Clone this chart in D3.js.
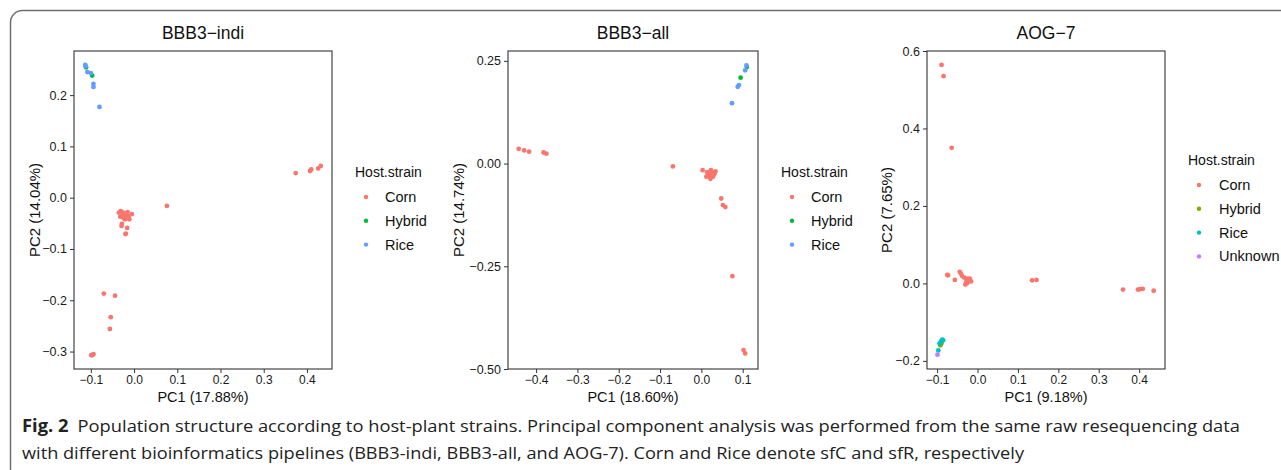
<!DOCTYPE html>
<html>
<head>
<meta charset="utf-8">
<script src="https://cdn.jsdelivr.net/npm/d3@7"></script>
<style>
  body { margin: 0; background: #fff; }
  svg { display: block; }
  .plot text { font-family: "Liberation Sans", Arial, sans-serif; }
  .caption text { font-family: "Open Sans", "Noto Sans", sans-serif; }
</style>
</head>
<body>
<svg id="chart" width="1281" height="470"></svg>
<script>
// ---- data ----
const indiCorn = [
  [0.374, 0.048], [0.407, 0.052], [0.410, 0.055], [0.426, 0.057], [0.432, 0.062],
  [0.076, -0.016],
  [-0.035, -0.029], [-0.031, -0.026], [-0.025, -0.029], [-0.015, -0.028], [-0.005, -0.032],
  [-0.011, -0.042], [-0.021, -0.042], [-0.032, -0.037], [-0.028, -0.051], [-0.029, -0.055],
  [-0.016, -0.059], [-0.019, -0.070], [-0.020, -0.071], [-0.025, -0.035], [-0.018, -0.033],
  [-0.022, -0.038], [-0.027, -0.032], [-0.013, -0.036], [-0.024, -0.040],
  [-0.070, -0.187], [-0.044, -0.191], [-0.054, -0.233], [-0.056, -0.256],
  [-0.094, -0.305], [-0.097, -0.307], [-0.099, -0.307]
]
const indiHybrid = [[-0.111, 0.254], [-0.097, 0.238]]
const indiRice = [
  [-0.113, 0.259], [-0.112, 0.256], [-0.108, 0.245], [-0.100, 0.243],
  [-0.094, 0.222], [-0.094, 0.216], [-0.080, 0.177]
]

const allCorn = [
  [-0.442, 0.036], [-0.429, 0.032], [-0.417, 0.029], [-0.382, 0.027], [-0.375, 0.024],
  [-0.069, -0.007],
  [0.003, -0.016], [0.014, -0.021], [0.023, -0.016], [0.034, -0.019], [0.018, -0.031],
  [0.022, -0.037], [0.030, -0.027], [0.026, -0.022], [0.012, -0.032], [0.020, -0.025],
  [0.028, -0.032], [0.016, -0.026], [0.032, -0.024], [0.024, -0.029],
  [0.048, -0.085], [0.052, -0.101], [0.058, -0.106], [0.075, -0.274],
  [0.102, -0.454], [0.106, -0.462]
]
const allHybrid = [[0.095, 0.209], [0.110, 0.235]]
const allRice = [
  [0.074, 0.147], [0.088, 0.187], [0.091, 0.191], [0.106, 0.227], [0.109, 0.239]
]

const aogCorn = [
  [-0.089, 0.564], [-0.084, 0.535], [-0.064, 0.350],
  [-0.075, 0.022], [-0.073, 0.021], [-0.056, 0.009],
  [-0.044, 0.030], [-0.041, 0.025], [-0.038, 0.019], [-0.026, 0.012], [-0.021, 0.010],
  [-0.016, 0.005], [-0.030, -0.003], [-0.028, 0.003], [-0.023, 0.006], [-0.033, 0.015],
  [-0.025, 0.001], [-0.019, 0.012],
  [0.135, 0.008], [0.146, 0.009],
  [0.360, -0.016], [0.397, -0.016], [0.402, -0.015], [0.409, -0.014], [0.436, -0.019]
]
const aogHybrid = [[-0.092, -0.160], [-0.089, -0.154], [-0.091, -0.157]]
const aogRice = [[-0.085, -0.147], [-0.090, -0.150], [-0.094, -0.155], [-0.097, -0.173], [-0.087, -0.145]]
const aogUnknown = [[-0.099, -0.184]]

const strains3 = ['Corn', 'Hybrid', 'Rice']
const strains4 = ['Corn', 'Hybrid', 'Rice', 'Unknown']
const colors3 = ['#F8766D', '#00BA38', '#619CFF']
const colors4 = ['#F8766D', '#7CAE00', '#00BFC4', '#C77CFF']

const titles = ['BBB3\u2212indi', 'BBB3\u2212all', 'AOG\u22127']
const xLabels = ['PC1 (17.88%)', 'PC1 (18.60%)', 'PC1 (9.18%)']
const yLabels = ['PC2 (14.04%)', 'PC2 (14.74%)', 'PC2 (7.65%)']

const xTicks = [
  [-0.1, 0.0, 0.1, 0.2, 0.3, 0.4],
  [-0.4, -0.3, -0.2, -0.1, 0.0, 0.1],
  [-0.1, 0.0, 0.1, 0.2, 0.3, 0.4]
]
const yTicks = [
  [-0.3, -0.2, -0.1, 0.0, 0.1, 0.2],
  [-0.50, -0.25, 0.00, 0.25],
  [-0.2, 0.0, 0.2, 0.4, 0.6]
]

const caption1 = 'Population structure according to host-plant strains. Principal component analysis was performed from the same raw resequencing data'
const caption2 = 'with different bioinformatics pipelines (BBB3-indi, BBB3-all, and AOG-7). Corn and Rice denote sfC and sfR, respectively'

// ---- layout ----
const panels = [
  {
    left: 74, right: 332, top: 51, bottom: 369,
    xDom: [-0.139, 0.458], yDom: [-0.334, 0.286], fmtY: '.1f', fmtX: '.1f',
    groups: [indiCorn, indiHybrid, indiRice], strains: strains3, colors: colors3,
    legend: {x: 355, y: 172, dx: 11, tx: 30}, ylabX: 35
  },
  {
    left: 508, right: 758, top: 51, bottom: 369,
    xDom: [-0.468, 0.137], yDom: [-0.5, 0.274], fmtY: '.2f', fmtX: '.1f',
    groups: [allCorn, allHybrid, allRice], strains: strains3, colors: colors3,
    legend: {x: 781, y: 172, dx: 11, tx: 30}, ylabX: 459
  },
  {
    left: 927, right: 1165, top: 51, bottom: 369,
    xDom: [-0.125, 0.464], yDom: [-0.221, 0.6], fmtY: '.1f', fmtX: '.1f',
    groups: [aogCorn, aogHybrid, aogRice, aogUnknown], strains: strains4, colors: colors4,
    legend: {x: 1188, y: 160, dx: 11, tx: 31}, ylabX: 887
  }
]

const svg = d3.select('#chart')

// outer frame, runs off the right and bottom
svg.append('rect')
  .attr('x', 10.5).attr('y', 10.5)
  .attr('width', 1320).attr('height', 520)
  .attr('rx', 12)
  .attr('fill', 'none')
  .attr('stroke', '#6f6f6f')
  .attr('stroke-width', 1.5)

const minus = s => s.replace('-', '\u2212')

panels.forEach((p, i) => {
  const x = d3.scaleLinear().domain(p.xDom).range([p.left, p.right])
  const y = d3.scaleLinear().domain(p.yDom).range([p.bottom, p.top])
  const g = svg.append('g').attr('class', 'plot')

  const xAxis = d3.axisBottom(x).tickValues(xTicks[i]).tickSize(4).tickPadding(2)
    .tickFormat(d => minus(d3.format(p.fmtX)(d)))
  const yAxis = d3.axisLeft(y).tickValues(yTicks[i]).tickSize(4).tickPadding(3)
    .tickFormat(d => minus(d3.format(p.fmtY)(d)))

  const gx = g.append('g').attr('transform', `translate(0,${p.bottom})`).call(xAxis)
  const gy = g.append('g').attr('transform', `translate(${p.left},0)`).call(yAxis)
  ;[gx, gy].forEach(a => {
    a.select('.domain').remove()
    a.selectAll('.tick line').attr('stroke', '#333').attr('stroke-width', 1)
    a.selectAll('.tick text')
      .attr('fill', '#1a1a1a')
      .style('font-size', '12.5px')
  })
  gx.selectAll('.tick text').style('font-size', '12px')

  // panel border
  g.append('rect')
    .attr('x', p.left).attr('y', p.top)
    .attr('width', p.right - p.left).attr('height', p.bottom - p.top)
    .attr('fill', 'none').attr('stroke', '#333').attr('stroke-width', 1.1)

  // points
  p.groups.forEach((pts, k) => {
    g.append('g').selectAll('circle')
      .data(pts)
      .join('circle')
      .attr('cx', d => x(d[0]))
      .attr('cy', d => y(d[1]))
      .attr('r', 2.4)
      .attr('fill', p.colors[k])
  })

  // title
  g.append('text')
    .attr('x', (p.left + p.right) / 2).attr('y', 39)
    .attr('text-anchor', 'middle')
    .style('font-size', '17.5px')
    .attr('fill', '#111')
    .text(titles[i])

  // axis labels
  g.append('text')
    .attr('x', (p.left + p.right) / 2).attr('y', 402)
    .attr('text-anchor', 'middle')
    .style('font-size', '14.5px')
    .attr('fill', '#111')
    .text(xLabels[i])

  g.append('text')
    .attr('transform', `translate(${p.ylabX + 5},${(p.top + p.bottom) / 2}) rotate(-90)`)
    .attr('text-anchor', 'middle')
    .style('font-size', '15px')
    .attr('fill', '#111')
    .text(yLabels[i])

  // legend
  const lg = g.append('g').attr('transform', `translate(${p.legend.x},${p.legend.y})`)
  lg.append('text').attr('x', 0).attr('y', 5)
    .style('font-size', '14px').attr('fill', '#111')
    .text('Host.strain')
  p.strains.forEach((s, k) => {
    const cy = 25 + k * 23.8
    lg.append('circle').attr('cx', p.legend.dx).attr('cy', cy).attr('r', 2.2).attr('fill', p.colors[k])
    lg.append('text').attr('x', p.legend.tx).attr('y', cy + 5)
      .style('font-size', '14.5px').attr('fill', '#111')
      .text(s)
  })
})

// caption
const cap = svg.append('g').attr('class', 'caption')
const c1 = cap.append('text').attr('x', 22).attr('y', 432)
  .style('font-size', '17px').attr('fill', '#222')
  .attr('textLength', 1218).attr('lengthAdjust', 'spacingAndGlyphs')
c1.append('tspan').style('font-weight', 'bold').text('Fig. 2')
c1.append('tspan').text('\u2002' + caption1)
cap.append('text').attr('x', 22).attr('y', 459)
  .style('font-size', '17px').attr('fill', '#222')
  .attr('textLength', 1002).attr('lengthAdjust', 'spacingAndGlyphs')
  .text(caption2)
</script>
</body>
</html>
